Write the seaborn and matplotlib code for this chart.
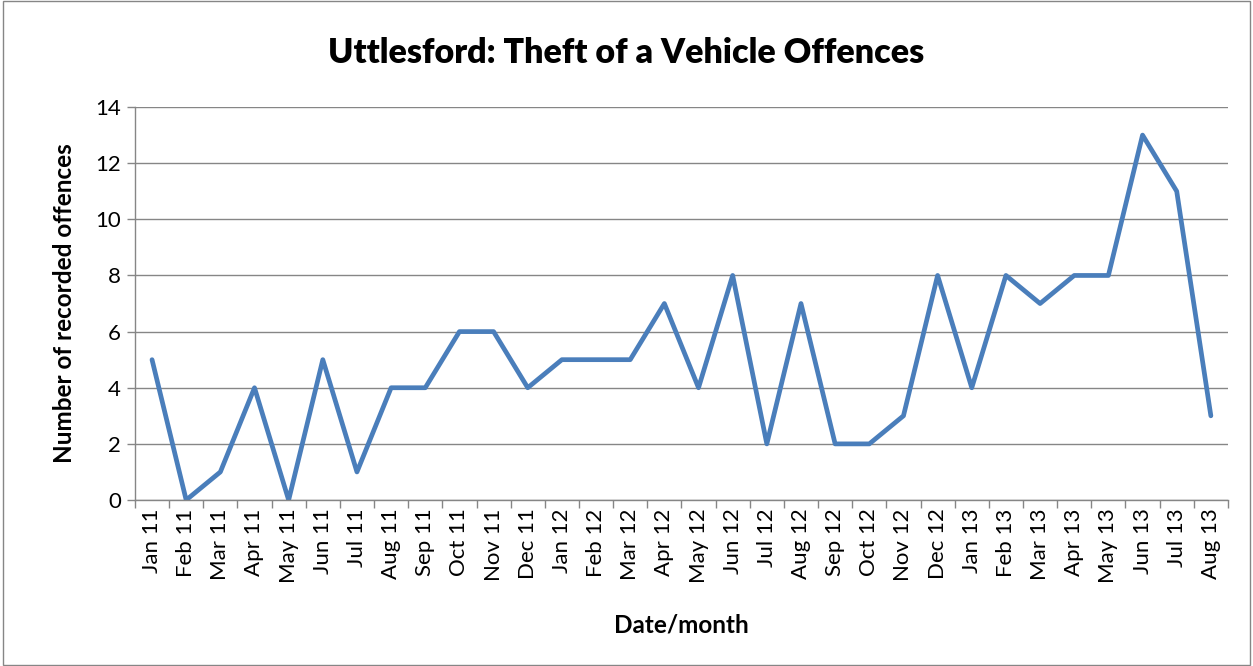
import matplotlib
matplotlib.use("Agg")
import matplotlib.pyplot as plt
import seaborn as sns
import pandas as pd
from matplotlib.patches import Rectangle

months = ["Jan 11","Feb 11","Mar 11","Apr 11","May 11","Jun 11","Jul 11","Aug 11","Sep 11","Oct 11","Nov 11","Dec 11",
          "Jan 12","Feb 12","Mar 12","Apr 12","May 12","Jun 12","Jul 12","Aug 12","Sep 12","Oct 12","Nov 12","Dec 12",
          "Jan 13","Feb 13","Mar 13","Apr 13","May 13","Jun 13","Jul 13","Aug 13"]
offences = [5,0,1,4,0,5,1,4,4,6,6,4,5,5,5,7,4,8,2,7,2,2,3,8,4,8,7,8,8,13,11,3]
yticks = [0,2,4,6,8,10,12,14]

sns.set_theme(style="white")
plt.rcParams['font.family'] = ['Lato', 'DejaVu Sans']
plt.rcParams['text.color'] = 'black'
plt.rcParams['axes.labelcolor'] = 'black'
plt.rcParams['xtick.color'] = 'black'
plt.rcParams['ytick.color'] = 'black'

df = pd.DataFrame({"idx": range(len(months)), "month": months, "offences": offences})

fig = plt.figure(figsize=(12.53, 6.66), dpi=100)
ax = fig.add_axes([0.1077, 0.2492, 0.8723, 0.5901])
sns.lineplot(data=df, x="idx", y="offences", ax=ax, color="#4A7EBB", linewidth=3.4)

ax.set_xlim(-0.5, len(months) - 0.5)
ax.set_ylim(0, 14)
ax.set_yticks(yticks)
ax.set_yticklabels([str(v) for v in yticks], fontsize=16)
ax.set_xticks(range(len(months)))
ax.set_xticklabels(months, rotation=90, fontsize=16)
ax.set_xticks([i - 0.5 for i in range(len(months) + 1)], minor=True)
ax.tick_params(axis='x', which='major', length=0, pad=6)
ax.tick_params(axis='x', which='minor', length=6, color="#868686", width=1, direction='out')
ax.tick_params(axis='y', length=6, color="#868686", width=1, direction='out', pad=4)
ax.xaxis.set_ticks_position('bottom')
ax.yaxis.set_ticks_position('left')
ax.grid(axis='y', color="#868686", linewidth=1)
ax.set_axisbelow(True)
for s in ['top', 'right']:
    ax.spines[s].set_visible(False)
for s in ['left', 'bottom']:
    ax.spines[s].set_color("#868686")
    ax.spines[s].set_linewidth(1)

ax.set_xlabel("Date/month", fontsize=17.5, fontweight='bold', labelpad=22)
ax.set_ylabel("Number of recorded offences", fontsize=17.5, fontweight='bold', labelpad=14)
fig.suptitle("Uttlesford: Theft of a Vehicle Offences", fontsize=24.5, fontweight='heavy', y=0.945)

fig.patches.append(Rectangle((0.002, 0.002), 0.996, 0.996, transform=fig.transFigure,
                             fill=False, edgecolor="#868686", linewidth=1))

fig.savefig("out.png", dpi=100)
